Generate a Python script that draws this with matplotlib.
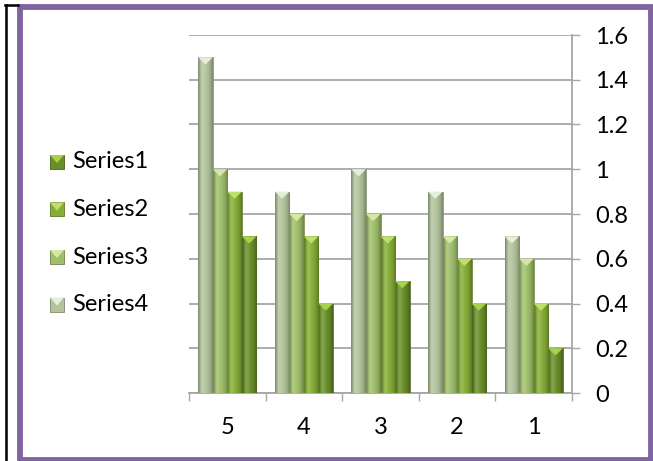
import numpy as np
import matplotlib
matplotlib.use("Agg")
import matplotlib.pyplot as plt
from matplotlib.patches import Rectangle, Polygon
from matplotlib.lines import Line2D

# data
categories = ["1", "2", "3", "4", "5"]
series1 = [0.2, 0.4, 0.5, 0.4, 0.7]
series2 = [0.4, 0.6, 0.7, 0.7, 0.9]
series3 = [0.6, 0.7, 0.8, 0.8, 1.0]
series4 = [0.7, 0.9, 1.0, 0.9, 1.5]
series_names = ["Series1", "Series2", "Series3", "Series4"]

# base colours and lighter bevel tops, dark -> light
base_colors = ["#6a8f2a", "#87ad38", "#a0bf6c", "#b3c49c"]
top_colors = ["#a9d24c", "#bfe06a", "#d3e9a4", "#e6eedb"]

plt.rcParams["font.family"] = ["Lato", "DejaVu Sans"]

W, H = 653, 461
fig = plt.figure(figsize=(W / 100, H / 100), dpi=100)


def shade(color, f):
    c = np.array(matplotlib.colors.to_rgb(color))
    if f >= 1:
        return c + (1 - c) * (f - 1) * 2.2
    return c * f


# horizontal light profile across a bar, screen left to right
profile = [0.74, 0.9, 1.05, 1.08, 1.06, 1.02, 0.99, 0.95, 0.9, 0.83, 0.72]

ax = fig.add_axes([189 / W, 1 - 393 / H, 383 / W, 358 / H])
x = np.arange(len(categories))
w = 0.19
all_series = [series1, series2, series3, series4]

for k, vals in enumerate(all_series):
    grad = np.array([[shade(base_colors[k], f) for f in profile]])
    bars = ax.bar(x + (k - 1.5) * w, vals, w, color=base_colors[k],
                  edgecolor=shade(base_colors[k], 0.7), linewidth=0.5, zorder=3)
    for b in bars:
        x0 = b.get_x()
        x1 = x0 + b.get_width()
        h = b.get_height()
        im = ax.imshow(grad, extent=(x1, x0, 0, h), aspect="auto",
                       interpolation="bilinear", zorder=3.5)
        im.set_clip_path(b)
        d = 0.032
        ax.add_patch(Polygon([(x0, h), (x1, h), ((x0 + x1) / 2, h - d)],
                             closed=True, facecolor=top_colors[k],
                             edgecolor="none", zorder=4))

ax.set_xlim(4.5, -0.5)
ax.set_ylim(0, 1.6)
ax.set_yticks(np.arange(0, 1.61, 0.2))
ax.set_yticklabels(["0", "0.2", "0.4", "0.6", "0.8", "1", "1.2", "1.4", "1.6"])
ax.yaxis.tick_right()
ax.set_xticks(x)
ax.set_xticklabels(categories)
ax.set_xticks(np.arange(-0.5, 5, 1), minor=True)

grid_c = "#a6a6a6"
ax.grid(axis="y", color=grid_c, linewidth=1.3, zorder=0)
ax.set_axisbelow(True)
for s in ["left", "top"]:
    ax.spines[s].set_visible(False)
for s in ["right", "bottom"]:
    ax.spines[s].set_color(grid_c)
    ax.spines[s].set_linewidth(1.3)

ax.tick_params(axis="y", which="major", right=True, left=False, length=5.8,
               width=1.0, color=grid_c, pad=11, labelsize=17)
ax.tick_params(axis="x", which="major", length=0, pad=17, labelsize=17)
ax.tick_params(axis="x", which="minor", length=5.8, width=1.0, color=grid_c)

# legend drawn on the left
rows = [162, 209.5, 257, 304.5]
for k, name in enumerate(series_names):
    yc = rows[k]
    sx0, sx1 = 50, 64
    sy0, sy1 = yc - 7, yc + 7
    fig.patches.append(Rectangle((sx0 / W, 1 - sy1 / H), (sx1 - sx0) / W,
                                 (sy1 - sy0) / H, transform=fig.transFigure,
                                 facecolor=base_colors[k],
                                 edgecolor=shade(base_colors[k], 0.7),
                                 linewidth=0.6))
    fig.patches.append(Polygon([(sx0 / W, 1 - sy0 / H), (sx1 / W, 1 - sy0 / H),
                                ((sx0 + sx1) / 2 / W, 1 - (yc + 1) / H)],
                               closed=True, transform=fig.transFigure,
                               facecolor=top_colors[k], edgecolor="none"))
    fig.text(72 / W, 1 - yc / H, name, fontsize=17, va="center", ha="left")

# outer frame
fig.patches.append(Rectangle((20 / W, 1 - 459.5 / H), 630.5 / W, 452 / H,
                             transform=fig.transFigure, fill=False,
                             edgecolor="#8064a2", linewidth=4.2))
fig.lines.append(Line2D([6 / W, 6 / W], [0, 1 - 5 / H], transform=fig.transFigure,
                        color="black", linewidth=1.8))
fig.lines.append(Line2D([5 / W, 18 / W], [1 - 5 / H, 1 - 5 / H],
                        transform=fig.transFigure, color="black", linewidth=1.8))

fig.savefig("out.png", dpi=100)
